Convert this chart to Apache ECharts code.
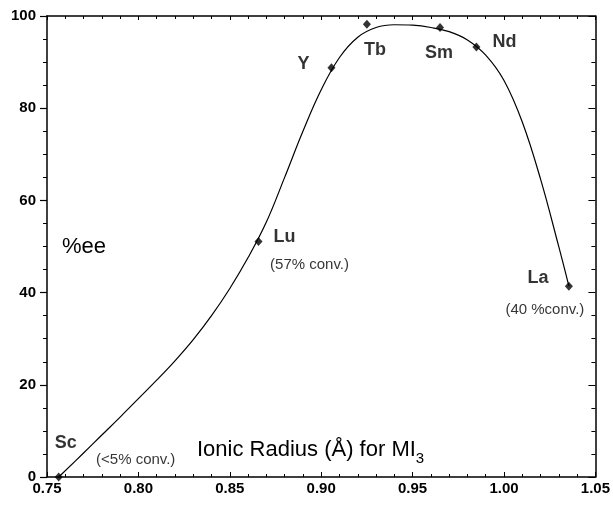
<!DOCTYPE html>
<html>
<head>
<meta charset="utf-8">
<script src="https://cdn.jsdelivr.net/npm/echarts@6/dist/echarts.min.js"></script>
<style>
html,body{margin:0;padding:0;background:#fff;}
#chart{width:613px;height:506px;}
</style>
</head>
<body>
<div id="chart"></div>
<script>
// ---- data ----
var elements = ['Sc', 'Lu', 'Y', 'Tb', 'Sm', 'Nd', 'La'];
var radius   = [0.7564, 0.8657, 0.9056, 0.925, 0.965, 0.9849, 1.0355];
var ee       = [0, 51.1, 88.8, 98.2, 97.5, 93.3, 41.4];
var notes    = ['(<5% conv.)', '(57% conv.)', '', '', '', '', '(40 %conv.)'];

// fitted curve
var curveX = [0.7564, 0.77, 0.78, 0.79, 0.80, 0.81, 0.82, 0.83, 0.84, 0.85, 0.86, 0.87, 0.88, 0.89, 0.90, 0.91, 0.92, 0.93, 0.94, 0.95, 0.96, 0.97, 0.98, 0.99, 1.00, 1.01, 1.02, 1.03, 1.0355];
var curveY = [0, 5.2, 9.1, 13.0, 17.0, 21.0, 25.2, 29.8, 35.0, 40.9, 47.6, 55.3, 65.0, 75.0, 84.0, 91.0, 95.4, 97.5, 98.1, 98.0, 97.5, 96.6, 94.8, 91.5, 86.0, 77.0, 64.6, 49.9, 41.4];

var xTicks = {min: 0.75, max: 1.05, step: 0.05};
var yTicks = {min: 0, max: 100, step: 20};

var yTitle = '%ee';
var xTitle = 'Ionic Radius (Å) for MI';
var xTitleSub = '3';

// ---- label placement (pixel offsets from each point) ----
var nameOffset = {Sc: [7, -34], Lu: [26, -4], Y: [-28, -4], Tb: [8, 26], Sm: [-1, 26], Nd: [28, -5], La: [-31, -8]};
var noteOffset = {Sc: [77, -17], Lu: [51, 23], La: [-24, 24]};

var FONT = '"Liberation Sans", Arial, Helvetica, sans-serif';

var pointData = elements.map(function (el, i) {
  return {
    value: [radius[i], ee[i]],
    name: el,
    label: {offset: nameOffset[el]}
  };
});
var noteData = [];
elements.forEach(function (el, i) {
  if (notes[i]) {
    noteData.push({value: [radius[i], ee[i]], name: notes[i], label: {offset: noteOffset[el]}});
  }
});
var curveData = curveX.map(function (x, i) { return [x, curveY[i]]; });

var chart = echarts.init(document.getElementById('chart'), null, {renderer: 'canvas'});

function baseAxis(extra) {
  var a = {
    type: 'value',
    axisLine: {show: true, onZero: false, lineStyle: {color: '#000', width: 1.5}},
    splitLine: {show: false},
    minorSplitLine: {show: false}
  };
  for (var k in extra) a[k] = extra[k];
  return a;
}

var option = {
  backgroundColor: '#fff',
  animation: false,
  grid: {left: 47, right: 16, top: 16, bottom: 29, containLabel: false},
  xAxis: [
    baseAxis({
      position: 'bottom',
      min: xTicks.min, max: xTicks.max, interval: xTicks.step,
      axisTick: {show: true, inside: true, length: 5, lineStyle: {color: '#000', width: 1}},
      minorTick: {show: true, splitNumber: 5, length: 3, lineStyle: {color: '#000', width: 1}},
      axisLabel: {
        show: true, margin: 4, color: '#000', fontFamily: FONT, fontWeight: 'bold', fontSize: 15,
        formatter: function (v) { return v.toFixed(2); },
        showMinLabel: true, showMaxLabel: true
      }
    }),
    baseAxis({
      position: 'top',
      min: xTicks.min, max: xTicks.max, interval: xTicks.step,
      axisTick: {show: true, inside: true, length: 4, lineStyle: {color: '#000', width: 1}},
      minorTick: {show: true, splitNumber: 5, length: 3, lineStyle: {color: '#000', width: 1}},
      axisLabel: {show: false}
    })
  ],
  yAxis: [
    baseAxis({
      position: 'left',
      min: yTicks.min, max: yTicks.max, interval: yTicks.step,
      axisTick: {show: true, inside: false, length: 7, lineStyle: {color: '#000', width: 1.2}},
      minorTick: {show: true, splitNumber: 4, length: 4, lineStyle: {color: '#000', width: 1}},
      axisLabel: {show: true, margin: 11, color: '#000', fontFamily: FONT, fontWeight: 'bold', fontSize: 15}
    }),
    baseAxis({
      position: 'right',
      min: yTicks.min, max: yTicks.max, interval: yTicks.step,
      axisTick: {show: true, inside: true, length: 7, lineStyle: {color: '#000', width: 1}},
      minorTick: {show: true, splitNumber: 4, length: 4, lineStyle: {color: '#000', width: 1}},
      axisLabel: {show: false}
    })
  ],
  series: [
    {
      type: 'line',
      xAxisIndex: 0, yAxisIndex: 0,
      data: curveData,
      smooth: 0.4,
      showSymbol: false,
      symbol: 'none',
      lineStyle: {color: '#000', width: 1.2},
      z: 2
    },
    {
      type: 'scatter',
      xAxisIndex: 0, yAxisIndex: 0,
      data: pointData,
      symbol: 'diamond',
      symbolSize: [8, 9],
      itemStyle: {color: '#000'},
      label: {
        show: true, position: 'inside', formatter: '{b}',
        color: '#000', fontFamily: FONT, fontWeight: 'bold', fontSize: 18,
        align: 'center', verticalAlign: 'middle'
      },
      z: 3
    },
    {
      type: 'scatter',
      xAxisIndex: 0, yAxisIndex: 0,
      data: noteData,
      symbolSize: 0,
      itemStyle: {color: 'transparent'},
      label: {
        show: true, position: 'inside', formatter: '{b}',
        color: '#000', fontFamily: FONT, fontWeight: 'normal', fontSize: 15,
        align: 'center', verticalAlign: 'middle'
      },
      z: 4
    }
  ],
  graphic: [
    {
      type: 'text', left: 62, top: 236,
      style: {text: yTitle, fill: '#000', font: 'normal 22px ' + FONT}
    },
    {
      type: 'text', left: 197, top: 439,
      style: {
        text: '{a|' + xTitle + '}{s|' + xTitleSub + '}',
        rich: {
          a: {fontFamily: FONT, fontSize: 22, color: '#000', lineHeight: 26, verticalAlign: 'bottom'},
          s: {fontFamily: FONT, fontSize: 15, color: '#000', lineHeight: 20, verticalAlign: 'bottom', padding: [0, 0, -5, 0]}
        }
      }
    }
  ]
};
chart.setOption(option);
</script>
</body>
</html>
